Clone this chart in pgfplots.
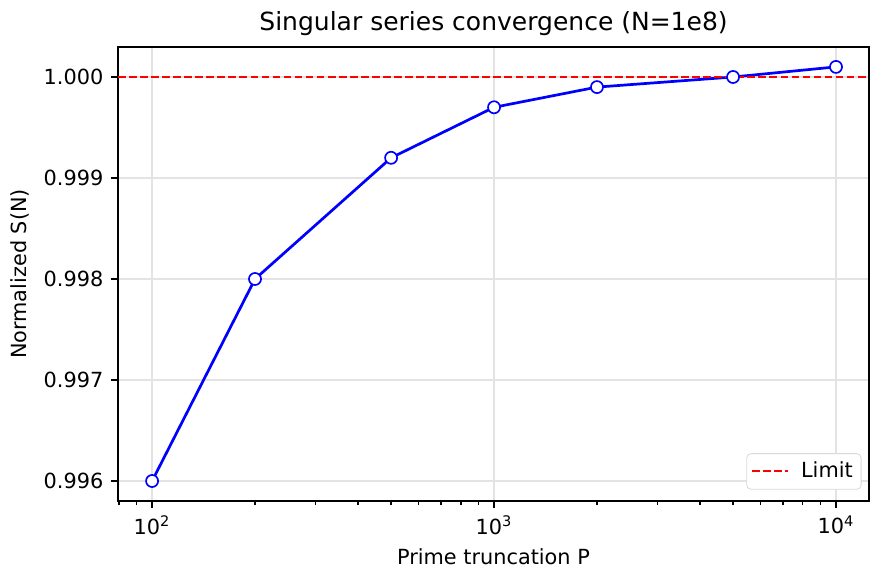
\documentclass[border=0pt]{standalone}
\usepackage{fontspec}
\setmainfont{DejaVu Sans}
\usepackage{pgfplots}
\pgfplotsset{compat=1.18}
\begin{document}
\begin{tikzpicture}
\useasboundingbox (-56.64pt,-40.32pt) rectangle (368.16pt,240.48pt);
\begin{axis}[
  at={(0,0)}, anchor=south west,
  scale only axis, width=360.48pt, height=217.92pt,
  xmode=log, xmin=79.5, xmax=12490,
  ymin=0.995802, ymax=1.000297,
  xtick={100,1000,10000},
  minor xtick={80,90,200,300,400,500,600,700,800,900,2000,3000,4000,5000,6000,7000,8000,9000},
  xticklabels={10\textsuperscript{2},10\textsuperscript{3},10\textsuperscript{4}},
  ytick={0.996,0.997,0.998,0.999,1.000},
  yticklabel style={/pgf/number format/.cd,fixed,fixed zerofill,precision=3,assume math mode=true},
  scaled y ticks=false,
  tick align=outside, tick pos=left,
  major tick length=3.5pt, minor tick length=2pt,
  every tick/.style={black, line width=0.8pt},
  minor tick style={line width=0.6pt},
  grid=major, major grid style={gray!22, line width=0.8pt},
  minor grid style={draw=none},
  axis line style={line width=0.8pt},
  ticklabel style={font=\fontsize{10}{12}\selectfont},
  title={Singular series convergence (N=1e8)},
  title style={font=\fontsize{12}{14}\selectfont, yshift=-4pt},
  xlabel={Prime truncation P}, ylabel={Normalized S(N)},
  label style={font=\fontsize{10}{12}\selectfont},
  legend style={font=\fontsize{10}{12}\selectfont, draw=gray!30, rounded corners=2pt, inner sep=2pt, at={(0.99,0.025)}, anchor=south east},
  legend cell align=left,
]
\addplot[blue, line width=1.3pt, mark=*, mark size=2.9pt, mark options={fill=white, draw=blue, line width=0.8pt}, forget plot] coordinates {
(100,0.9960) (200,0.9980) (500,0.9992) (1000,0.9997) (2000,0.9999) (5000,1.0000) (10000,1.0001)};
\addplot[red, line width=1pt, dash pattern=on 3.7pt off 1.6pt] coordinates {(79.5,1.000) (12490,1.000)};
\addlegendentry{\hspace{4pt}Limit}
\end{axis}
\end{tikzpicture}
\end{document}
